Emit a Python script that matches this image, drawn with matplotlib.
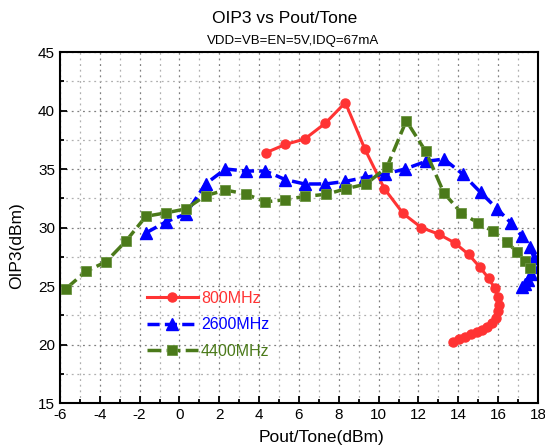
import numpy as np
import matplotlib
matplotlib.use("Agg")
import matplotlib.pyplot as plt
from matplotlib.ticker import MultipleLocator

plt.rcParams['font.family'] = ['Liberation Sans', 'DejaVu Sans']
plt.rcParams['axes.unicode_minus'] = False

# 800MHz
pout_800 = [4.35, 5.32, 6.29, 7.33, 8.33, 9.32, 10.29, 11.23, 12.14, 13.02, 13.82,
            14.52, 15.09, 15.52, 15.83, 15.98, 16.03, 15.98, 15.88, 15.68, 15.46,
            15.21, 14.94, 14.62, 14.34, 14.05, 13.73]
oip3_800 = [36.4, 37.1, 37.56, 38.92, 40.68, 36.67, 33.32, 31.2, 30.0, 29.43, 28.69,
            27.7, 26.6, 25.67, 24.82, 24.06, 23.4, 22.83, 22.3, 21.87, 21.5,
            21.27, 21.04, 20.87, 20.68, 20.5, 20.22]

# 2600MHz
pout_2600 = [-1.68, -0.68, 0.32, 1.31, 2.31, 3.32, 4.32, 5.32, 6.29, 7.33, 8.33,
             9.32, 10.31, 11.33, 12.37, 13.28, 14.22, 15.12, 15.94, 16.64, 17.2,
             17.62, 17.8, 17.75, 17.65, 17.5, 17.35, 17.18]
oip3_2600 = [29.54, 30.48, 31.16, 33.72, 35.0, 34.83, 34.83, 34.09, 33.72, 33.72, 33.94,
             34.28, 34.57, 35.0, 35.65, 35.85, 34.57, 33.0, 31.62, 30.4, 29.26,
             28.3, 27.4, 26.6, 26.0, 25.55, 25.2, 24.95]

# 4400MHz
pout_4400 = [-5.7, -4.7, -3.69, -2.69, -1.68, -0.68, 0.32, 1.31, 2.31, 3.32, 4.32,
             5.32, 6.29, 7.38, 8.38, 9.38, 10.42, 11.39, 12.37, 13.28, 14.15, 14.99,
             15.74, 16.44, 16.97, 17.36, 17.58]
oip3_4400 = [24.77, 26.24, 27.07, 28.83, 30.96, 31.25, 31.59, 32.72, 33.2, 32.87, 32.19,
             32.38, 32.66, 32.84, 33.32, 33.72, 35.17, 39.12, 36.5, 32.95, 31.25, 30.4,
             29.68, 28.75, 27.89, 27.12, 26.5]

red = '#FF3333'
blue = '#0000FF'
green = '#4B7A1A'

fig = plt.figure(figsize=(5.45, 4.46), dpi=100)
ax = fig.add_axes([0.110, 0.0964, 0.877, 0.787])

ax.plot(pout_800, oip3_800, color=red, lw=2.2, marker='o', ms=6.5,
        label='800MHz')
ax.plot(pout_2600, oip3_2600, color=blue, lw=2.5, ls=(0, (3.5, 1.5)),
        marker='^', ms=8, label='2600MHz')
ax.plot(pout_4400, oip3_4400, color=green, lw=2.5, ls=(0, (4, 1.5)),
        marker='s', ms=6.5, markeredgecolor='#6a9440', markeredgewidth=0.6,
        label='4400MHz')

ax.set_xlim(-6, 18)
ax.set_ylim(15, 45)
ax.xaxis.set_major_locator(MultipleLocator(2))
ax.xaxis.set_minor_locator(MultipleLocator(1))
ax.yaxis.set_major_locator(MultipleLocator(5))
ax.yaxis.set_minor_locator(MultipleLocator(2.5))
ax.tick_params(which='both', direction='in', labelsize=11, width=1.3)
ax.tick_params(which='major', length=5)
ax.tick_params(which='minor', length=3)
ax.grid(which='major', ls=(0, (1.5, 3)), color='#808080', lw=0.9)
ax.grid(which='minor', ls=(0, (1.5, 3)), color='#b0b0b0', lw=0.9)
ax.set_axisbelow(True)
for s in ax.spines.values():
    s.set_linewidth(1.5)

leg = ax.legend(loc='upper left', bbox_to_anchor=(0.165, 0.343), frameon=False,
                fontsize=11.5, handlelength=3.2, handletextpad=0.2,
                labelspacing=0.72, borderpad=0)
for txt, c in zip(leg.get_texts(), [red, blue, green]):
    txt.set_color(c)

fig.text(0.523, 0.958, 'OIP3 vs Pout/Tone', ha='center', va='center', fontsize=12.5)
fig.text(0.537, 0.909, 'VDD=VB=EN=5V,IDQ=67mA', ha='center', va='center', fontsize=9.5)
fig.text(0.589, 0.018, 'Pout/Tone(dBm)', ha='center', va='center', fontsize=12.5)
fig.text(0.031, 0.45, 'OIP3(dBm)', ha='center', va='center', rotation=90, fontsize=12.5)

fig.savefig('out.png', dpi=100)
